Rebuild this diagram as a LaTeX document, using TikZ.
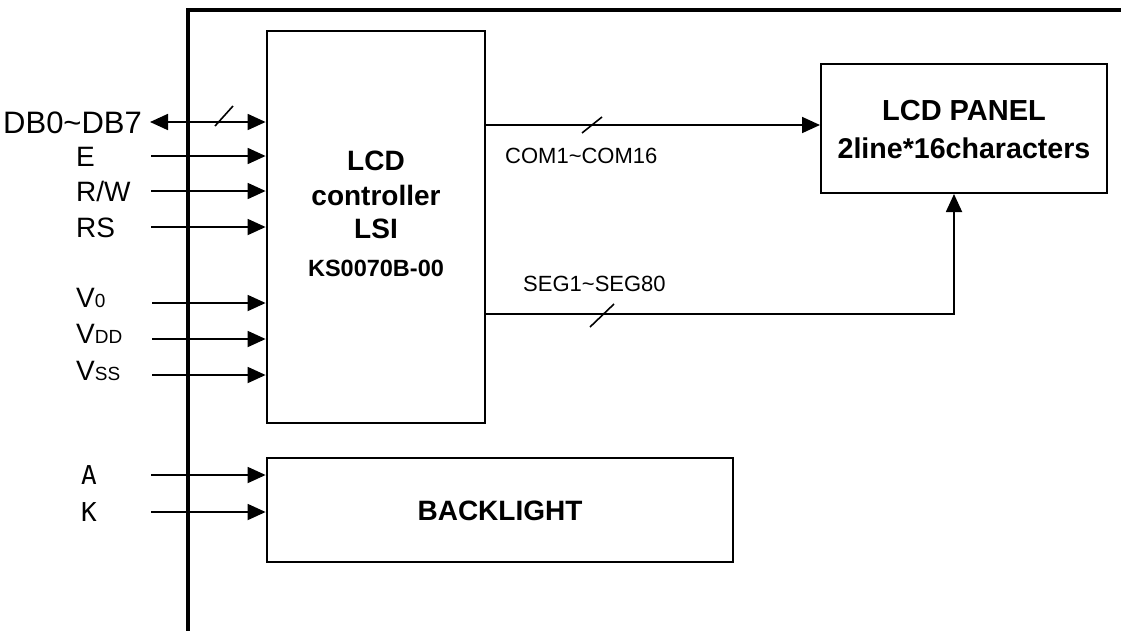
\documentclass[tikz,border=0pt]{standalone}
\usepackage{fontspec}
\setmainfont{Liberation Sans}
\newfontfamily\monoAK{DejaVu Sans Mono}
\usetikzlibrary{arrows.meta}
\newcommand{\fsz}[1]{\fontsize{#1}{#1}\selectfont}
\begin{document}
\begin{tikzpicture}[x=1pt,y=-1pt,
  sig/.style={line width=1.8pt,-{Triangle[length=18pt,width=16pt]}},
  bus/.style={line width=1.6pt},
  box/.style={draw,line width=2.8pt,inner sep=0pt},
  lbl/.style={inner sep=0pt,anchor=west,font=\fsz{28},text height=20pt,text depth=0pt},
  btxt/.style={inner sep=0pt,font=\bfseries\fsz{28},text height=20pt,text depth=0pt},
  small/.style={inner sep=0pt,anchor=west,font=\fsz{22},text height=16pt,text depth=0pt},
  aklbl/.style={inner sep=0pt,anchor=west,font=\monoAK\fsz{26},text height=19pt,text depth=0pt}
]
\useasboundingbox (0,0) rectangle (1121,630);

% outer frame
\draw[line width=3.4pt] (188,632) -- (188,10) -- (1123,10);

% boxes
\node[box,minimum width=218pt,minimum height=392pt] (ctrl) at (376,227) {};
\node[box,line width=2pt,minimum width=286pt,minimum height=129pt] (panel) at (964,128.5) {};
\node[box,minimum width=466pt,minimum height=104pt] (bl) at (500,510) {};

% box texts
\node[btxt] (t1) at (376,160) {LCD};
\node[btxt] (t2) at (376,195) {controller};
\node[btxt] (t3) at (376,228) {LSI};
\node[btxt,font=\bfseries\fsz{23.5},text height=17pt] (t4) at (376,268) {KS0070B-00};
\node[btxt,font=\bfseries\fsz{29}] (p1) at (964,110) {LCD PANEL};
\node[btxt,font=\bfseries\fsz{28.6}] (p2) at (964,148) {2line*16characters};
\node[btxt] (b1) at (500,510) {BACKLIGHT};

% input labels
\node[lbl,font=\fsz{31},text height=22pt] (lDB) at (3,122) {DB0\char"7E DB7};
\node[lbl] (lE) at (76,156) {E};
\node[lbl] (lRW) at (76,191) {R/W};
\node[lbl] (lRS) at (76,227) {RS};
\node[lbl] (lV0) at (76,297) {V{\fsz{19}0}};
\node[lbl] (lVDD) at (76,333) {V{\fsz{19}DD}};
\node[lbl] (lVSS) at (76,370) {V{\fsz{19}SS}};
\node[aklbl] (lA) at (81,475) {A};
\node[aklbl] (lK) at (81,512) {K};

% input line start points
\coordinate (sDB) at (150,122);
\coordinate (sE) at (151,156);
\coordinate (sRW) at (151,191);
\coordinate (sRS) at (151,227);
\coordinate (sV0) at (152,303);
\coordinate (sVDD) at (152,339);
\coordinate (sVSS) at (152,375);
\coordinate (sA) at (151,475);
\coordinate (sK) at (151,512);

\draw[line width=1.8pt,{Triangle[length=18pt,width=16pt]}-{Triangle[length=18pt,width=16pt]}] (sDB) -- (sDB -| ctrl.west);
\draw[bus] (215,126) -- (233,106);
\foreach \s in {sE,sRW,sRS,sV0,sVDD,sVSS}{
  \draw[sig] (\s) -- (\s -| ctrl.west);
}
\draw[sig] (sA) -- (sA -| bl.west);
\draw[sig] (sK) -- (sK -| bl.west);

% outputs
\coordinate (comy) at (0,125);
\coordinate (segy) at (0,314);
\coordinate (segx) at (954,0);
\draw[sig] (ctrl.east |- comy) -- (panel.west |- comy);
\draw[bus] (582,133) -- (602,117);
\node[small] (lCOM) at (505,155) {COM1\char"7E COM16};
\draw[sig] (ctrl.east |- segy) -| (segx |- panel.south);
\draw[bus] (590,327) -- (614,304);
\node[small] (lSEG) at (523,283) {SEG1\char"7E SEG80};
\end{tikzpicture}
\end{document}
